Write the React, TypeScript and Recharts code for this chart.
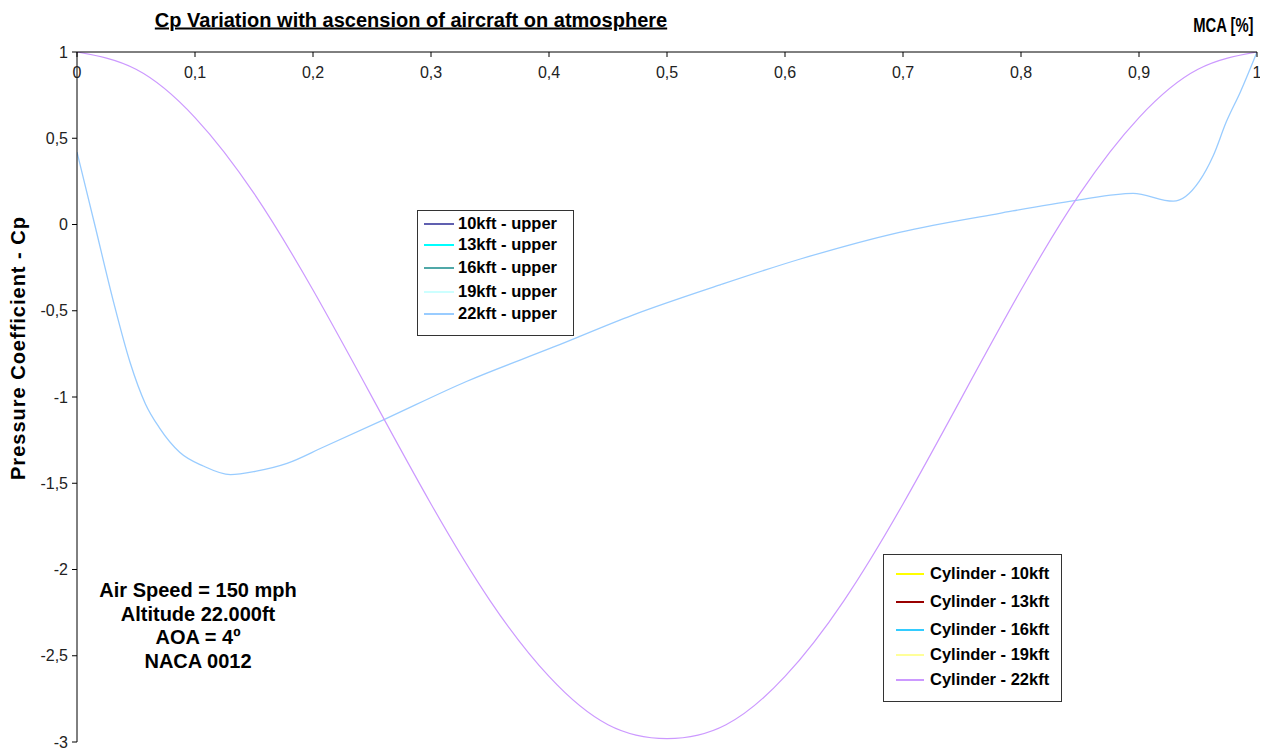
import React from "react";
import { LineChart, Line, XAxis, YAxis } from "recharts";

// cylinder, 22kft
const cylX = [0, 0.05, 0.1, 0.15, 0.2, 0.25, 0.3, 0.35, 0.4, 0.45, 0.5, 0.55, 0.6, 0.65, 0.7, 0.75, 0.8, 0.85, 0.9, 0.95, 1];
const cylCp = [1, 0.9, 0.62, 0.18, -0.38, -1, -1.62, -2.18, -2.62, -2.9, -2.98, -2.9, -2.62, -2.18, -1.62, -1, -0.38, 0.18, 0.62, 0.9, 1];

// upper surface, 22kft
const upperX = [0, 0.015, 0.031, 0.045, 0.058, 0.07, 0.087, 0.107, 0.13, 0.152, 0.178, 0.209, 0.262, 0.33, 0.404, 0.471, 0.545, 0.613, 0.697, 0.782, 0.847, 0.895, 0.929, 0.951, 0.963, 0.974, 0.986, 1];
const upperCp = [0.42, 0.0, -0.45, -0.8, -1.04, -1.18, -1.32, -1.4, -1.45, -1.43, -1.385, -1.29, -1.125, -0.91, -0.71, -0.525, -0.35, -0.2, -0.045, 0.065, 0.14, 0.18, 0.135, 0.25, 0.4, 0.595, 0.77, 1];

const xTicks = [0, 0.1, 0.2, 0.3, 0.4, 0.5, 0.6, 0.7, 0.8, 0.9, 1];
const yTicks = [-3, -2.5, -2, -1.5, -1, -0.5, 0, 0.5, 1];

const upperLegend = [
  { name: "10kft - upper", color: "#6060b0" },
  { name: "13kft - upper", color: "#00ffff" },
  { name: "16kft - upper", color: "#50a8a8" },
  { name: "19kft - upper", color: "#ccffff" },
  { name: "22kft - upper", color: "#99ccff" },
];
const cylLegend = [
  { name: "Cylinder - 10kft", color: "#ffff00" },
  { name: "Cylinder - 13kft", color: "#990000" },
  { name: "Cylinder - 16kft", color: "#33ccff" },
  { name: "Cylinder - 19kft", color: "#ffff99" },
  { name: "Cylinder - 22kft", color: "#cc99ff" },
];
const notes = ["Air Speed = 150 mph", "Altitude 22.000ft", "AOA = 4º", "NACA 0012"];

const upperData = upperX.map((x, i) => ({ x, cp: upperCp[i] }));
const cylData = cylX.map((x, i) => ({ x, cp: cylCp[i] }));

const fmt = (v: number) => (Number.isInteger(v) ? String(v) : v.toFixed(1).replace(".", ","));

const font = "'Liberation Sans', Arial, sans-serif";
const bold: React.CSSProperties = { position: "absolute", fontFamily: font, fontWeight: "bold", color: "#000", whiteSpace: "nowrap" };

function LegendBox({ items, left, top, w, h, rows, sx, sw, tx }: any) {
  return (
    <div style={{ position: "absolute", left, top, width: w, height: h, border: "1px solid #333", background: "#fff", boxSizing: "border-box" }}>
      {items.map((it: any, i: number) => (
        <React.Fragment key={it.name}>
          <div style={{ position: "absolute", left: sx, top: rows[i], width: sw, height: 0, borderTop: `2px solid ${it.color}` }} />
          <div style={{ ...bold, left: tx, top: rows[i] - 10, fontSize: 16.5, lineHeight: "20px" }}>{it.name}</div>
        </React.Fragment>
      ))}
    </div>
  );
}

export default function App() {
  return (
    <div style={{ position: "relative", width: 1252, height: 748, marginBottom: -8 }}>
      <LineChart width={1252} height={748} data={cylData} margin={{ top: 44, right: 3, bottom: 14, left: 19 }}>
        <XAxis
          dataKey="x"
          type="number"
          domain={[0, 1]}
          ticks={xTicks}
          interval={0}
          orientation="top"
          mirror
          tickFormatter={fmt}
          tickSize={5}
          tickMargin={10}
          stroke="#000"
          tick={{ fill: "#222", fontSize: 16, fontFamily: font }}
          allowDataOverflow
        />
        <YAxis
          type="number"
          domain={[-3, 1]}
          ticks={yTicks}
          interval={0}
          width={50}
          tickFormatter={fmt}
          tickSize={5}
          tickMargin={4}
          stroke="#000"
          tick={{ fill: "#222", fontSize: 16, fontFamily: font }}
          allowDataOverflow
        />
        <Line data={upperData} dataKey="cp" type="monotone" stroke="#99ccff" strokeWidth={1.3} dot={false} isAnimationActive={false} />
        <Line data={cylData} dataKey="cp" type="natural" stroke="#cc99ff" strokeWidth={1.2} dot={false} isAnimationActive={false} />
      </LineChart>

      <div style={{ ...bold, left: 403, top: 12, transform: "translate(-50%, -50%)", fontSize: 20, textDecoration: "underline" }}>
        Cp Variation with ascension of aircraft on atmosphere
      </div>
      <div style={{ ...bold, right: 7, top: 17, transform: "translateY(-50%) scaleX(0.74)", transformOrigin: "right center", fontSize: 20 }}>MCA [%]</div>
      <div style={{ ...bold, left: 10, top: 340, transform: "translate(-50%, -50%) rotate(-90deg)", fontSize: 20, letterSpacing: 1 }}>
        Pressure Coefficient - Cp
      </div>
      {notes.map((n, i) => (
        <div key={n} style={{ ...bold, left: 190, top: 582 + i * 23.7, transform: "translate(-50%, -50%)", fontSize: 20 }}>
          {n}
        </div>
      ))}
      <LegendBox items={upperLegend} left={409} top={202} w={157} h={126} rows={[12, 33, 56, 80, 102]} sx={6} sw={30} tx={40} />
      <LegendBox items={cylLegend} left={875} top={546} w={179} h={148} rows={[18, 46, 74, 99, 124]} sx={12} sw={28} tx={46} />
    </div>
  );
}
